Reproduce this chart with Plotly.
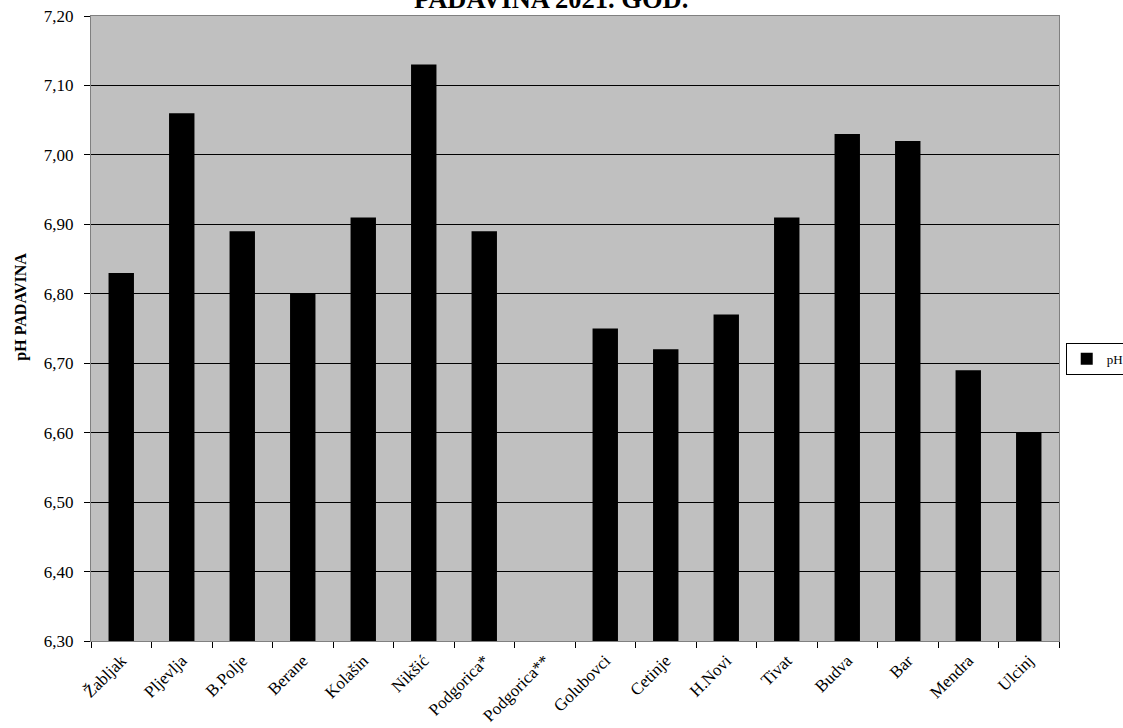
import plotly.graph_objects as go

categories = ["Žabljak", "Pljevlja", "B.Polje", "Berane", "Kolašin", "Nikšić",
              "Podgorica*", "Podgorica**", "Golubovci", "Cetinje", "H.Novi",
              "Tivat", "Budva", "Bar", "Mendra", "Ulcinj"]
ph_values = [6.83, 7.06, 6.89, 6.80, 6.91, 7.13, 6.89, None, 6.75, 6.72,
             6.77, 6.91, 7.03, 7.02, 6.69, 6.60]

FONT = "Liberation Serif, Times New Roman, serif"

fig = go.Figure()
fig.add_trace(go.Bar(x=categories, y=ph_values, name="pH",
                     marker=dict(color="black", line=dict(width=0))))

fig.update_layout(
    width=1123, height=728,
    margin=dict(l=91, r=64, t=16, b=87),
    paper_bgcolor="white",
    plot_bgcolor="#C0C0C0",
    separators=",.",
    bargap=0.58,
    font=dict(family=FONT, size=14, color="black"),
    showlegend=True,
    legend=dict(xref="container", yref="container", x=0.949, y=0.529,
                xanchor="left", yanchor="top",
                bordercolor="black", borderwidth=1, bgcolor="white",
                font=dict(family=FONT, size=13), itemwidth=30,
                tracegroupgap=0),
    annotations=[
        dict(text="<b>PADAVINA 2021. GOD.</b>", xref="paper", yref="paper",
             x=0.475, y=1.0, yshift=0, xanchor="center", yanchor="bottom",
             showarrow=False, font=dict(family=FONT, size=26.5, color="black")),
        dict(text="<b>pH PADAVINA</b>", xref="paper", yref="paper",
             x=0, y=0.535, xshift=-70, xanchor="center", yanchor="middle",
             textangle=-90, showarrow=False,
             font=dict(family=FONT, size=16, color="black")),
    ],
)
fig.update_xaxes(
    type="category", tickson="boundaries", ticks="outside", ticklen=6,
    tickcolor="black", tickangle=-45, showline=True, linecolor="#808080",
    linewidth=1, mirror=True, showgrid=False, automargin=False,
    ticklabelstandoff=2,
    tickfont=dict(family=FONT, size=17),
)
fig.update_yaxes(
    range=[6.30, 7.20], dtick=0.1, tick0=6.30, tickformat=".2f",
    ticks="outside", ticklen=6, tickcolor="black", automargin=False,
    ticklabeloverflow="allow", ticklabelstandoff=7,
    showline=True, linecolor="#808080", linewidth=1, mirror=True,
    showgrid=True, gridcolor="black", gridwidth=1,
    tickfont=dict(family=FONT, size=17),
)

fig.write_html("out.html", config={"displayModeBar": False},
               post_script="document.body.style.margin='0';")
